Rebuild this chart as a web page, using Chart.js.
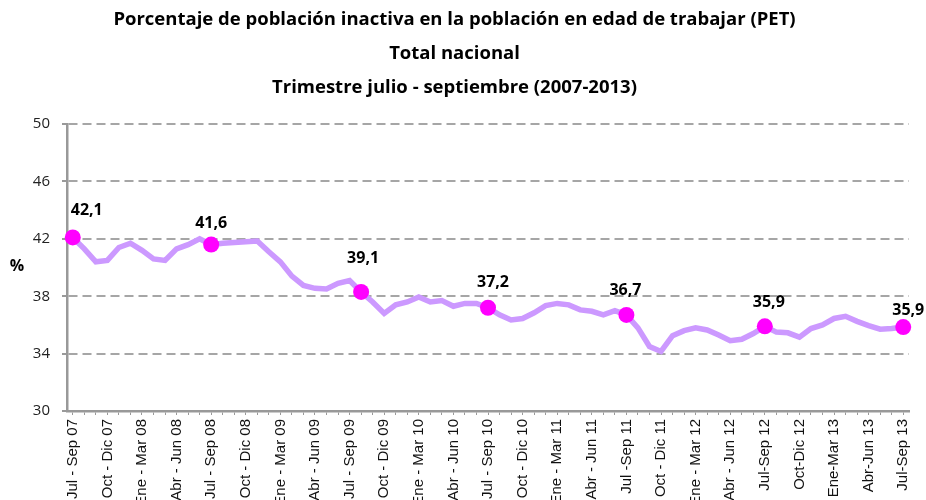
<!DOCTYPE html>
<html>
<head>
<meta charset="utf-8">
<script src="https://cdn.jsdelivr.net/npm/chart.js"></script>
<style>
  html, body { margin: 0; padding: 0; background: #fff; overflow: hidden; }
  #wrap { width: 926px; height: 500px; }
</style>
</head>
<body>
<div id="wrap"><canvas id="myChart" width="926" height="500"></canvas></div>
<script>
// etiquetas trimestrales del eje (cada 3 meses)
var tickLabels = [
  'Jul - Sep 07', 'Oct - Dic 07', 'Ene - Mar 08', 'Abr - Jun 08',
  'Jul - Sep 08', 'Oct - Dic 08', 'Ene - Mar 09', 'Abr - Jun 09',
  'Jul - Sep 09', 'Oct - Dic 09', 'Ene - Mar 10', 'Abr - Jun 10',
  'Jul - Sep 10', 'Oct - Dic 10', 'Ene - Mar 11', 'Abr - Jun 11',
  'Jul -Sep 11', 'Oct - Dic 11', 'Ene - Mar 12', 'Abr - Jun 12',
  'Jul-Sep 12', 'Oct-Dic 12', 'Ene-Mar 13', 'Abr-Jun 13', 'Jul-Sep 13'
];

// trimestre móvil, % inactivos / PET
var inactivos = [
  42.1, 41.3, 40.4, 40.5, 41.4, 41.7, 41.2, 40.6, 40.5, 41.3, 41.6, 42.0,
  41.6, 41.7, 41.75, 41.8, 41.85, 41.1, 40.4, 39.4, 38.75, 38.55, 38.5, 38.9,
  39.1, 38.3, 37.6, 36.8, 37.4, 37.6, 37.95, 37.6, 37.7, 37.3, 37.5, 37.5,
  37.2, 36.7, 36.35, 36.45, 36.85, 37.35, 37.5, 37.4, 37.05, 36.95, 36.7, 37.0,
  36.7, 35.8, 34.5, 34.15, 35.25, 35.6, 35.8, 35.65, 35.3, 34.9, 35.0, 35.4,
  35.9, 35.5, 35.45, 35.15, 35.75, 36.0, 36.45, 36.6, 36.25, 35.95, 35.7, 35.75,
  35.85
];

// puntos destacados (julio - septiembre)
var puntosIdx = [0, 12, 25, 36, 48, 60, 72];
var puntosValor = [42.1, 41.6, 38.3, 37.2, 36.7, 35.9, 35.85];
var puntosTexto = ['42,1', '41,6', '39,1', '37,2', '36,7', '35,9', '35,9'];

var yTicks = [30, 34, 38, 42, 46, 50];

// categorias mensuales: solo cada tercera lleva texto
var categorias = [];
tickLabels.forEach(function (t, i) {
  categorias.push(t);
  if (i < tickLabels.length - 1) { categorias.push(''); categorias.push(''); }
});

var puntos = categorias.map(function () { return null; });
puntosIdx.forEach(function (idx, i) { puntos[idx] = puntosValor[i]; });

var etiquetasPlugin = {
  id: 'etiquetas',
  afterDatasetsDraw: function (chart, args, opts) {
    var ctx = chart.ctx;
    var meta = chart.getDatasetMeta(1);
    ctx.save();
    ctx.font = 'bold 16px "Open Sans", sans-serif';
    ctx.fillStyle = '#000';
    ctx.textAlign = 'center';
    ctx.textBaseline = 'middle';
    puntosIdx.forEach(function (idx, i) {
      var el = meta.data[idx];
      var off = opts.offsets[i];
      ctx.fillText(puntosTexto[i], el.x + off[0], el.y + off[1]);
    });
    // titulo del eje y, horizontal
    ctx.font = 'bold 16px "Open Sans", sans-serif';
    ctx.fillText('%', 17, (chart.chartArea.top + chart.chartArea.bottom) / 2 - 1);
    ctx.restore();
  }
};

var ctx = document.getElementById('myChart').getContext('2d');
var myChart = new Chart(ctx, {
  type: 'line',
  data: {
    labels: categorias,
    datasets: [
      {
        label: 'Inactivos',
        data: inactivos,
        borderColor: '#CC99FF',
        borderWidth: 5.5,
        pointRadius: 0,
        tension: 0,
        fill: false,
        order: 2
      },
      {
        label: 'Jul - Sep',
        data: puntos,
        showLine: false,
        pointRadius: 8,
        pointBackgroundColor: '#FF00FF',
        pointBorderColor: '#FF00FF',
        pointBorderWidth: 0,
        clip: false,
        order: 1
      }
    ]
  },
  options: {
    responsive: false,
    animation: false,
    layout: { padding: { left: 0, right: 17, top: 0, bottom: 0 } },
    plugins: {
      legend: { display: false },
      tooltip: { enabled: false },
      title: {
        display: true,
        text: [
          'Porcentaje de población inactiva en la población en edad de trabajar (PET)',
          'Total nacional',
          'Trimestre julio - septiembre (2007-2013)'
        ],
        color: '#000',
        font: { family: '"Open Sans", sans-serif', size: 18.5, weight: 'bold', lineHeight: 1.84 },
        padding: { top: 3, bottom: 19 }
      },
      etiquetas: {
        offsets: [[14, -27], [0, -21], [2, -34], [5, -25], [-1, -24], [4, -24], [5, -17]]
      }
    },
    scales: {
      x: {
        type: 'category',
        offset: true,
        afterFit: function (scale) { scale.height = 89; },
        grid: {
          drawOnChartArea: false,
          drawTicks: true,
          tickLength: 4,
          offset: false,
          color: '#999'
        },
        border: { display: true, color: '#999', width: 2.5 },
        ticks: {
          autoSkip: false,
          minRotation: 90,
          maxRotation: 90,
          padding: 4,
          color: '#111',
          font: { family: '"Liberation Sans", Arial, sans-serif', size: 15 },
          callback: function (value, index) { return categorias[index]; }
        }
      },
      y: {
        min: 30,
        max: 50,
        afterFit: function (scale) { scale.width = 67; },
        afterBuildTicks: function (scale) {
          scale.ticks = yTicks.map(function (v) { return { value: v }; });
        },
        grid: {
          color: '#A6A6A6',
          lineWidth: 2,
          tickLength: 5,
          tickColor: '#999',
          drawTicks: true
        },
        border: { display: true, color: '#999', width: 2.5, dash: [9, 5] },
        ticks: {
          padding: 12,
          color: '#222',
          font: { family: '"Open Sans", sans-serif', size: 15 }
        }
      }
    }
  },
  plugins: [etiquetasPlugin]
});
</script>
</body>
</html>
